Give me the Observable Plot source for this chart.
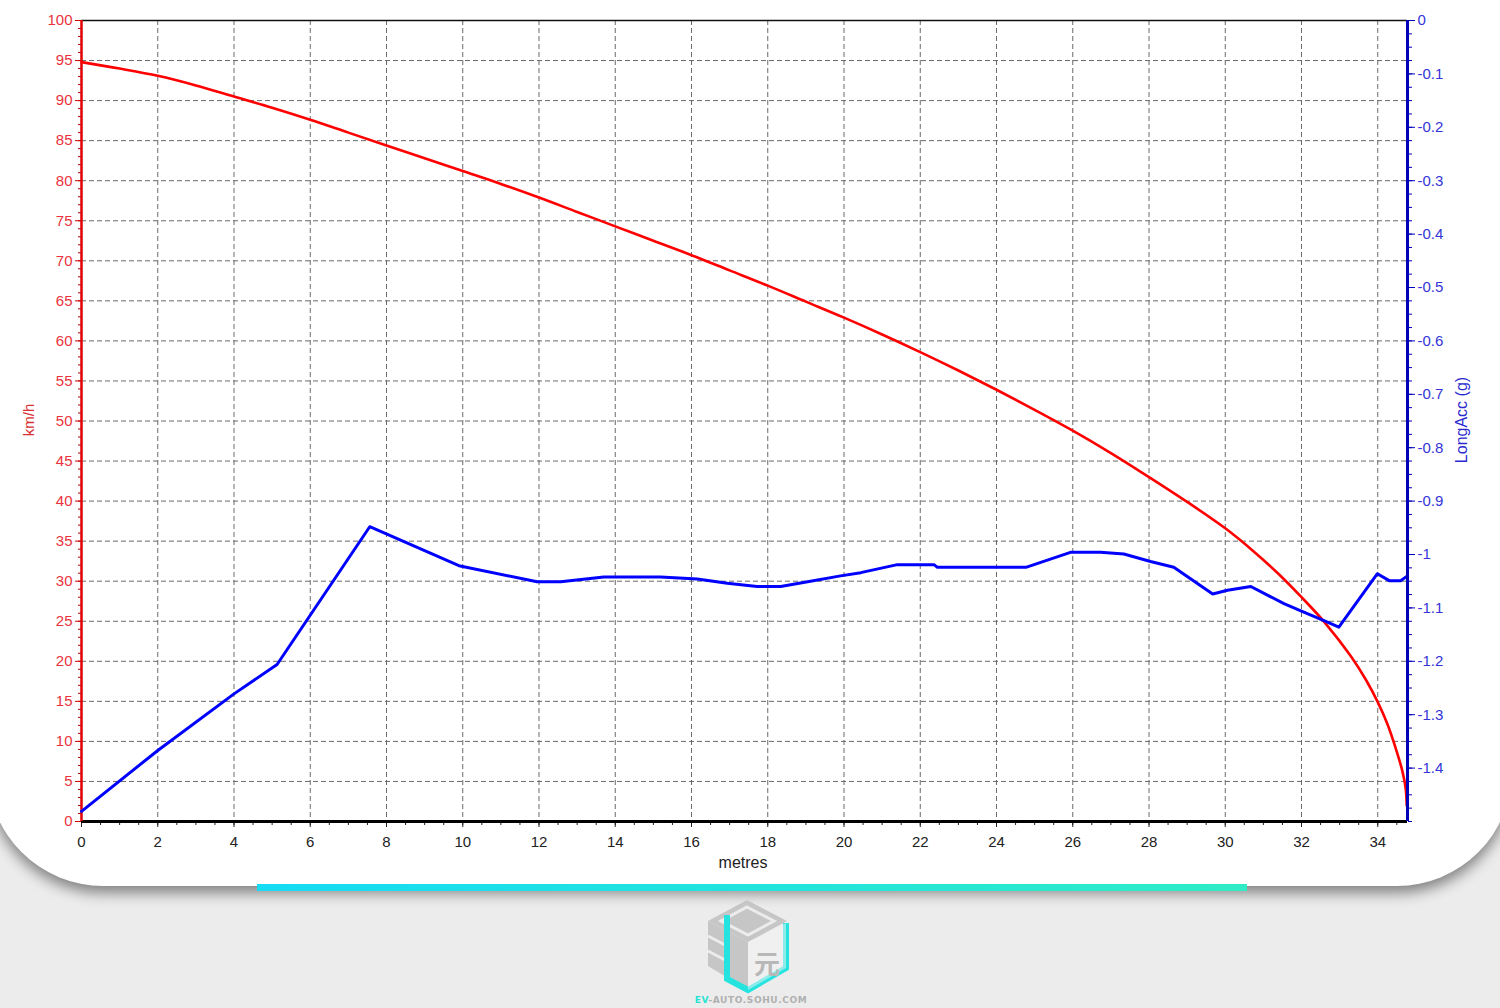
<!DOCTYPE html>
<html><head><meta charset="utf-8">
<script src="https://cdn.jsdelivr.net/npm/d3@7"></script>
<script src="https://cdn.jsdelivr.net/npm/@observablehq/plot@0.6"></script>
<style>
html,body{margin:0;padding:0;background:#ececec;width:1500px;height:1008px;overflow:hidden;font-family:"Liberation Sans",Arial,sans-serif;}
#card{position:absolute;left:-12px;top:-80px;width:1524px;height:966px;background:#fff;border-radius:115px;box-shadow:0 7px 14px rgba(0,0,0,0.45);}
#bar{position:absolute;left:257px;top:884px;width:990px;height:7px;background:linear-gradient(90deg,#15dbf4,#2fecc5);}
#chart1,#chart2,#deco{position:absolute;left:0;top:0;}
</style></head><body>
<div id="card"></div>
<div id="bar"></div>
<div id="chart1"></div>
<div id="chart2"></div>
<svg id="deco" width="1500" height="1008" style="pointer-events:none">
  <text x="34" y="420" transform="rotate(-90 34 420)" text-anchor="middle" font-size="15" fill="#d83030" font-family="Liberation Sans, Arial, sans-serif">km/h</text>
  <text x="1467" y="420" transform="rotate(-90 1467 420)" text-anchor="middle" font-size="16" fill="#2a2ad0" font-family="Liberation Sans, Arial, sans-serif">LongAcc (g)</text>
  <text x="743" y="868" text-anchor="middle" font-size="16" fill="#222" font-family="Liberation Sans, Arial, sans-serif">metres</text>
  <g id="logo">
    <polygon points="747,900 787,921 748,942 708,921" fill="#c6c6c6"/>
    <polygon points="747,907 774,921 748,935 721,921" fill="none" stroke="#ececec" stroke-width="3"/>
    <polygon points="708,921 748,942 748,990 708,966" fill="#c6c6c6"/>
    <line x1="708" y1="936" x2="727" y2="946" stroke="#ececec" stroke-width="3"/>
    <line x1="708" y1="951" x2="727" y2="961" stroke="#ececec" stroke-width="3"/>
    <path d="M727,915 L727,979 L748,990 L786,968 L786,923" fill="none" stroke="#25e4e0" stroke-width="6" stroke-linejoin="miter"/>
    <polygon points="748,942 786,923 786,968 748,990" fill="#f4f4f4" opacity="0.5"/>
    <text x="767" y="974" text-anchor="middle" font-size="26" font-weight="bold" fill="#b8b8b8" font-family="Noto Sans CJK SC, sans-serif">元</text>
    <text x="751" y="1003" text-anchor="middle" font-size="9" font-weight="bold" letter-spacing="0.6" font-family="DejaVu Sans, sans-serif"><tspan fill="#25e4d0">EV</tspan><tspan fill="#b0b0b0">-AUTO.SOHU.COM</tspan></text>
  </g>
</svg>
<script>
// ---- data ----
const speedDist = [0,1,2,3,4,5,6,7,8,9,10,11,12,13,14,15,16,17,18,19,20,21,22,23,24,25,26,27,28,29,30,30.7,31.4,32,32.6,33.3,33.7,34,34.25,34.5,34.65,34.73,34.76];
const speedKmh  = [94.8,94.0,93.1,91.9,90.5,89.1,87.6,86.0,84.4,82.8,81.2,79.6,77.9,76.1,74.3,72.5,70.7,68.8,66.9,64.9,62.9,60.8,58.6,56.3,53.9,51.4,48.8,46.0,43.0,39.9,36.6,33.9,30.9,28.0,24.9,20.6,17.6,14.9,12.2,8.7,6.2,4.2,2.0];
const accDist = [0,2,4,5.13,7.56,9.9,11.95,12.57,13.7,15.19,16.15,16.94,17.72,18.34,19.12,19.91,20.44,21.4,22.36,22.45,24.77,25.94,26.73,27.34,28.04,28.65,29.67,30.06,30.67,31.54,32.06,32.59,32.98,33.99,34.3,34.6,34.76];
const accG    = [-1.481,-1.367,-1.261,-1.206,-0.948,-1.021,-1.051,-1.051,-1.042,-1.042,-1.046,-1.054,-1.060,-1.060,-1.050,-1.040,-1.034,-1.019,-1.019,-1.024,-1.024,-0.996,-0.996,-0.999,-1.013,-1.024,-1.074,-1.067,-1.060,-1.092,-1.108,-1.124,-1.136,-1.036,-1.049,-1.049,-1.041];
const xTickLabels = [0,2,4,6,8,10,12,14,16,18,20,22,24,26,28,30,32,34];
const leftTickLabels = [0,5,10,15,20,25,30,35,40,45,50,55,60,65,70,75,80,85,90,95,100];
const rightTickLabels = [0,-0.1,-0.2,-0.3,-0.4,-0.5,-0.6,-0.7,-0.8,-0.9,-1,-1.1,-1.2,-1.3,-1.4];

const speedData = speedDist.map((d,i)=>({d, v: speedKmh[i]}));
const accData = accDist.map((d,i)=>({d, g: accG[i]}));

const W = 1500, H = 880;
const M = {marginTop:20, marginBottom:59, marginLeft:81, marginRight:93};
const xDomain = [0, 34.78];
const font = {fontFamily:"'Liberation Sans', Arial, sans-serif", background:"transparent", overflow:"visible"};
const minorX = d3.range(0, 34.76, 0.5);
const minorLeft = d3.range(0, 100.01, 1);
const minorRight = d3.range(0, 61).map(i => -i*0.025);

const chart1 = Plot.plot({
  width: W, height: H, ...M,
  style: font,
  x: {domain: xDomain},
  y: {domain: [0, 100]},
  marks: [
    Plot.gridX(xTickLabels.filter(d => d > 0), {stroke:"#6a6a6a", strokeOpacity:1, strokeWidth:1, strokeDasharray:"5,3"}),
    Plot.gridY(leftTickLabels.filter(d => d > 0 && d < 100), {stroke:"#6a6a6a", strokeOpacity:1, strokeWidth:1, strokeDasharray:"5,3"}),
    Plot.ruleY([100], {stroke:"#111", strokeWidth:1.5}),
    Plot.axisX(minorX, {anchor:"bottom", tickSize:4, stroke:"#222", fill:"none", label:null}),
    Plot.axisX(xTickLabels, {anchor:"bottom", tickSize:6, tickPadding:9, fontSize:15, stroke:"#222", fill:"#222", label:null, tickFormat: d => String(d)}),
    Plot.axisY(minorLeft, {anchor:"left", tickSize:3, stroke:"#b00000", fill:"none", label:null}),
    Plot.axisY(leftTickLabels, {anchor:"left", tickSize:6, tickPadding:3, fontSize:15, stroke:"#d00000", fill:"#e8323c", label:null, tickFormat: d => String(d)}),
    Plot.ruleY([0], {stroke:"#000", strokeWidth:3}),
    Plot.ruleX([0], {stroke:"#e00000", strokeWidth:2.5}),
    Plot.line(speedData, {x:"d", y:"v", stroke:"#ff0000", strokeWidth:2.6, curve:"catmull-rom"})
  ]
});
document.getElementById("chart1").append(chart1);

const chart2 = Plot.plot({
  width: W, height: H, ...M,
  style: font,
  x: {domain: xDomain, axis: null},
  y: {domain: [-1.5, 0]},
  marks: [
    Plot.line(accData, {x:"d", y:"g", stroke:"#0000ff", strokeWidth:3}),
    Plot.axisY(minorRight, {anchor:"right", tickSize:4, stroke:"#0000b8", fill:"none", label:null}),
    Plot.axisY(rightTickLabels, {anchor:"right", tickSize:7, tickPadding:3, fontSize:15, stroke:"#0000b8", fill:"#3434d8", label:null, tickFormat: d => String(+d.toFixed(2))}),
    Plot.ruleX([xDomain[1]], {stroke:"#0000b8", strokeWidth:3})
  ]
});
document.getElementById("chart2").append(chart2);
</script>
</body></html>
